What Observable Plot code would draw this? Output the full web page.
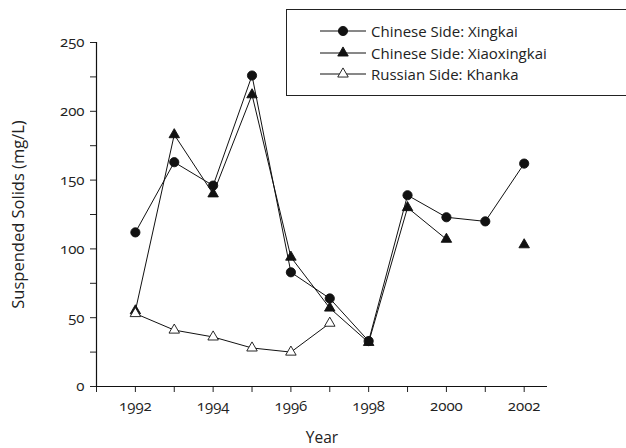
<!DOCTYPE html>
<html>
<head>
<meta charset="utf-8">
<script src="https://cdn.jsdelivr.net/npm/d3@7"></script>
<script src="https://cdn.jsdelivr.net/npm/@observablehq/plot@0.6"></script>
<style>
  html, body { margin: 0; padding: 0; background: #fff; overflow: hidden; }
  #chart { position: relative; width: 626px; height: 448px; overflow: hidden; }
  #chart svg text {
    font-family: "Open Sans", sans-serif;
    font-size: 15px;
    font-variant-numeric: oldstyle-nums;
    font-feature-settings: "onum" 1;
    fill: #222;
  }
  #chart svg g[aria-label="y-axis label"] text { font-size: 16.5px; }
  #chart svg g[aria-label="x-axis label"] text { font-size: 15.5px; }
  #legend {
    position: absolute; left: 286px; top: 9px; width: 360px; height: 87px;
    border: 1.2px solid #222; box-sizing: border-box; background: #fff;
    font-family: "Open Sans", sans-serif; font-size: 15px; color: #222;
  }
  #legend .row { position: absolute; left: 33px; height: 22px; display: flex; align-items: center; }
  #legend svg { display: block; margin-right: 5px; }
</style>
</head>
<body>
<div id="chart"></div>
<script>
// Suspended solids (mg/L) measured each year at three lake monitoring sites
const years       = [1992, 1993, 1994, 1995, 1996, 1997, 1998, 1999, 2000, 2001, 2002];
const xingkai     = [112, 163, 146, 226, 83, 64, 33, 139, 123, 120, 162];
const xiaoxingkai = [55, 183, 140, 212, 94, 57, 32, 130, 107, null, 103];
const khanka      = [53, 41, 36, 28, 25, 46, null, null, null, null, null];

const seriesNames = ["Chinese Side: Xingkai", "Chinese Side: Xiaoxingkai", "Russian Side: Khanka"];
const seriesValues = [xingkai, xiaoxingkai, khanka];
const symbols = ["circle", "triangle", "triangle"];
const fills = ["#111", "#111", "#fff"];
const radii = [4.6, 3.9, 3.9];

// One row per year and series; missing years break the line
const rows = seriesNames.map((name, i) =>
  years.map((year, j) => ({series: name, year, value: seriesValues[i][j]}))
);

const xTicks = d3.range(1991, 2003);
const yTicks = d3.range(0, 251, 25);

const marks = [
  Plot.axisX({
    ticks: xTicks, tickSize: 6, tickPadding: 8,
    tickFormat: d => d % 2 === 0 ? String(d) : "",
    label: "Year", labelAnchor: "center", labelOffset: 56, labelArrow: "none"
  }),
  Plot.axisY({
    ticks: yTicks, tickSize: 6, tickPadding: 6,
    tickFormat: d => d % 50 === 0 ? String(d) : "",
    label: "Suspended Solids (mg/L)", labelAnchor: "center", labelOffset: 84, labelArrow: "none"
  }),
  Plot.ruleY([0], {stroke: "#111", strokeWidth: 1.2}),
  Plot.ruleX([1991], {stroke: "#111", strokeWidth: 1.2})
];

rows.forEach((data, i) => {
  marks.push(Plot.line(data, {
    x: "year", y: "value", stroke: "#111", strokeWidth: 1,
    defined: d => d.value != null
  }));
});
rows.forEach((data, i) => {
  marks.push(Plot.dot(data.filter(d => d.value != null), {
    x: "year", y: "value", symbol: symbols[i], r: radii[i],
    fill: fills[i], stroke: "#111", strokeWidth: 0.9
  }));
});

const plot = Plot.plot({
  width: 626,
  height: 448,
  marginLeft: 96,
  marginRight: 79,
  marginTop: 42,
  marginBottom: 62,
  style: {
    fontFamily: "Open Sans, sans-serif",
    fontSize: "15px",
    color: "#222",
    background: "#fff"
  },
  x: {domain: [1991, 2002.6]},
  y: {domain: [0, 250]},
  marks
});
document.getElementById("chart").appendChild(plot);

// Legend box drawn over the upper right of the plot area
const legend = d3.select("#chart").append("div").attr("id", "legend");
seriesNames.forEach((name, i) => {
  const row = legend.append("div").attr("class", "row").style("top", `${10 + i * 21.7}px`);
  const svg = row.append("svg").attr("width", 46).attr("height", 14);
  svg.append("line").attr("x1", 0).attr("x2", 46).attr("y1", 7).attr("y2", 7)
    .attr("stroke", "#111").attr("stroke-width", 1);
  svg.append("path")
    .attr("d", d3.symbol(symbols[i] === "circle" ? d3.symbolCircle : d3.symbolTriangle,
      Math.PI * radii[i] * radii[i])())
    .attr("transform", "translate(23,7)")
    .attr("fill", fills[i]).attr("stroke", "#111").attr("stroke-width", 0.9);
  row.append("span").text(name);
});
</script>
</body>
</html>
